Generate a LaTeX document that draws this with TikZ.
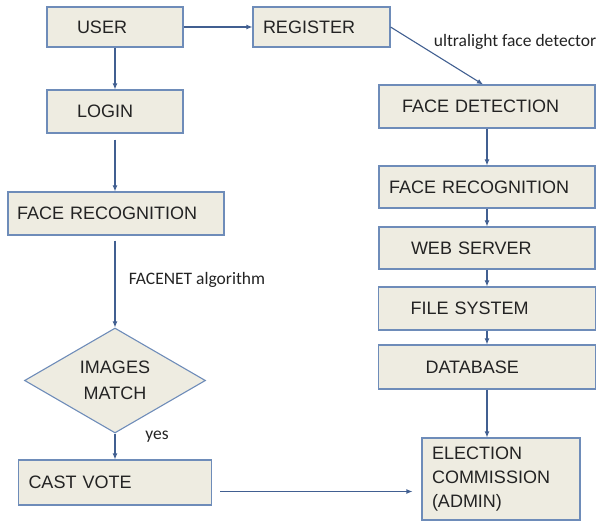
\documentclass[tikz,border=0pt]{standalone}
\usepackage{fontspec}
\setmainfont{Liberation Sans}
\newfontfamily\notefont{Carlito}
\usetikzlibrary{arrows.meta,shapes.geometric,calc}
\definecolor{boxfill}{RGB}{238,236,225}
\definecolor{boxline}{RGB}{110,140,185}
\definecolor{linkcol}{RGB}{65,95,145}
\definecolor{inkcol}{RGB}{35,35,35}

\begin{document}
\begin{tikzpicture}[x=1pt,y=-1pt,
  box/.style={draw=boxline, fill=boxfill, line width=1.1pt, align=left, inner ysep=0pt, text=inkcol, font=\fontsize{18}{24}\selectfont},
  decision/.style={diamond, draw=boxline, fill=boxfill, line width=1.1pt, aspect=1.72, inner sep=0pt, align=center, text=inkcol, font=\fontsize{18}{26}\selectfont},
  link/.style={draw=linkcol, line width=1.1pt, -{Latex[length=6pt,width=5pt]}},
  note/.style={text=inkcol, font=\notefont\fontsize{17.5}{21}\selectfont}]

\useasboundingbox (0,0) rectangle (608,521);

\node[box, minimum height=40pt, inner xsep=30pt, text width=76pt] (user) at (115,27) {USER};
\node[box, minimum height=40pt, inner xsep=10pt, text width=117pt] (register) at (321.5,27) {REGISTER};
\node[box, minimum height=43pt, inner xsep=30pt, text width=76pt] (login) at (115,111.5) {LOGIN};
\node[box, minimum height=43pt, inner xsep=9pt, text width=198pt] (facerecL) at (116,213.5) {FACE RECOGNITION};
\node[decision, minimum width=181pt, minimum height=105pt] (match) at (115,380.5) {IMAGES\\MATCH};
\node[box, minimum height=45pt, inner xsep=10pt, text width=173pt] (castvote) at (115,482.5) {CAST VOTE};

\node[box, minimum height=43pt, inner xsep=23pt, text width=170pt] (facedet) at (487,106.5) {FACE DETECTION};
\node[box, minimum height=42pt, inner xsep=10pt, text width=196pt] (facerecR) at (487,187) {FACE RECOGNITION};
\node[box, minimum height=42pt, inner xsep=32pt, text width=152pt] (webserver) at (487,248) {WEB SERVER};
\node[box, minimum height=43pt, inner xsep=32pt, text width=153pt] (filesystem) at (487,308.5) {FILE SYSTEM};
\node[box, minimum height=44pt, inner xsep=47pt, text width=123pt] (database) at (487,367) {DATABASE};
\node[box, minimum height=82pt, inner xsep=10pt, text width=138pt] (election) at (501,479) {ELECTION\\COMMISSION\\(ADMIN)};

\node[note] (ultranote) at (515,42) {ultralight face detector};
\node[note] (facenetnote) at (197,280) {FACENET algorithm};
\node[note] (yesnote) at (157,437) {yes};

\coordinate (votelink) at ([yshift=-9pt]castvote.east);

\draw[link] (user.east) -- (register.west);
\draw[link] (user.south) -- (login.north);
\draw[link, shorten <=6pt] (login.south) -- (login.south |- facerecL.north);
\draw[link, shorten <=5pt] (match.north |- facerecL.south) -- (match.north);
\draw[link] (match.south) -- (castvote.north);
\draw[link, shorten <=8pt, shorten >=9pt] (votelink) -- (votelink -| election.west);

\draw[link] (register.east) -- ([xshift=-4pt]facedet.north);
\draw[link] (facedet.south) -- (facerecR.north);
\draw[link] (facerecR.south) -- (webserver.north);
\draw[link] (webserver.south) -- (filesystem.north);
\draw[link] (filesystem.south) -- (database.north);
\draw[link] (database.south) -- (database.south |- election.north);

\end{tikzpicture}
\end{document}
